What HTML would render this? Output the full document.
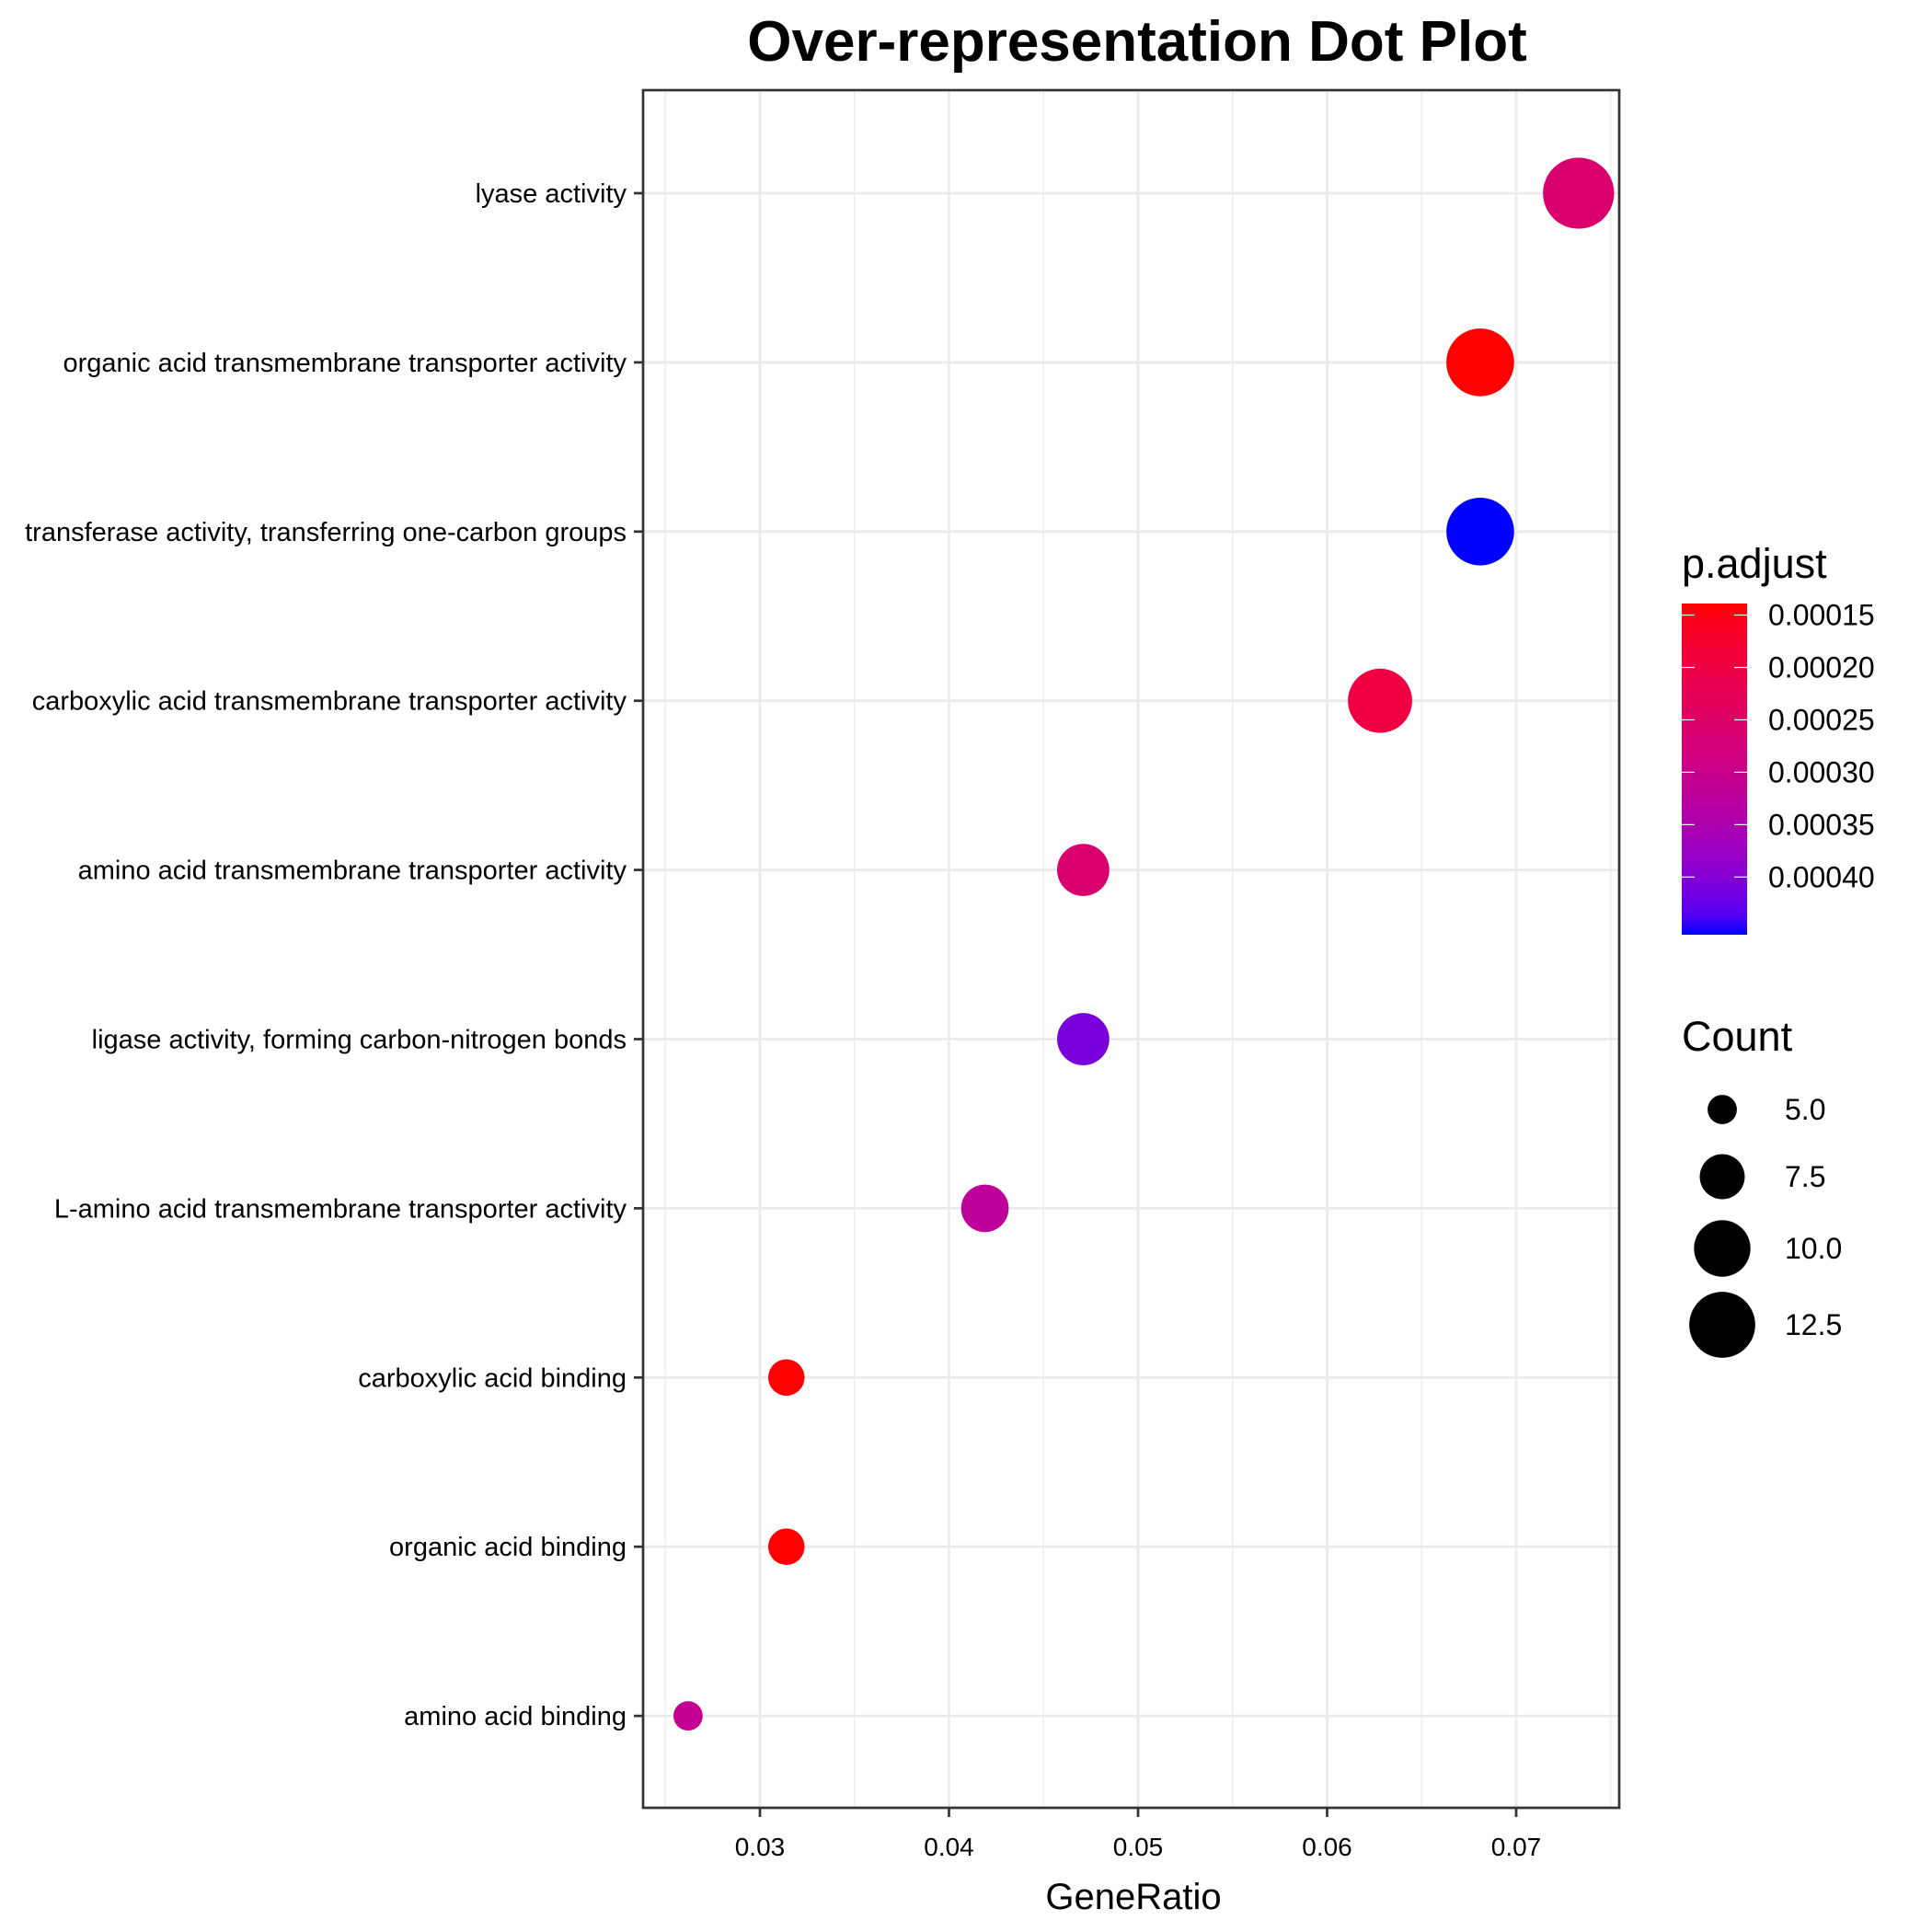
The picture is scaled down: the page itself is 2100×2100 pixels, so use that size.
<!DOCTYPE html>
<html><head><meta charset="utf-8"><style>
html,body{margin:0;padding:0;background:#fff;}
svg{display:block;font-family:"Liberation Sans",Arial,sans-serif;}
</style></head><body>
<svg id="chart" width="2100" height="2100" viewBox="0 0 2100 2100">
<defs>
<linearGradient id="cbar" x1="0" y1="0" x2="0" y2="1"></linearGradient>
</defs>
<text x="1236" y="66" text-anchor="middle" font-size="62" font-weight="bold">Over-representation Dot Plot</text>
<g id="panel"></g>
<text x="1232" y="2075" text-anchor="middle" font-size="40">GeneRatio</text>
<g id="legend"></g>
</svg>
<script>
const categories = ["lyase activity","organic acid transmembrane transporter activity","transferase activity, transferring one-carbon groups","carboxylic acid transmembrane transporter activity","amino acid transmembrane transporter activity","ligase activity, forming carbon-nitrogen bonds","L-amino acid transmembrane transporter activity","carboxylic acid binding","organic acid binding","amino acid binding"];
const geneRatio = [0.0733,0.0681,0.0681,0.0628,0.0471,0.0471,0.0419,0.0314,0.0314,0.0262];
const counts = [14,13,13,12,9,9,8,6,6,5];
const pAdjust = [0.00026,0.00014,0.000455,0.00020,0.00026,0.00041,0.00032,0.00014,0.00014,0.00031];
const xTicks = [0.03,0.04,0.05,0.06,0.07];
const xMinor = [0.025,0.035,0.045,0.055,0.065,0.075];
const pTicks = [0.00015,0.00020,0.00025,0.00030,0.00035,0.00040];
const sizeBreaks = [5.0,7.5,10.0,12.5];
const sizeLabels = ["5.0","7.5","10.0","12.5"];

const NS="http://www.w3.org/2000/svg";
const L=699,R=1760,T=98,B=1965;
const xMin=0.02382,xMax=0.07545;
const pMin=0.000139,pMax=0.000455;
function xs(v){return L+(v-xMin)/(xMax-xMin)*(R-L);}
function ys(i){return 210+i*183.9;}
function rs(c){return 1.346*Math.sqrt(Math.max(0,76*c-240));}
function mk(tag,attrs,parent){const e=document.createElementNS(NS,tag);for(const k in attrs)e.setAttribute(k,attrs[k]);parent.appendChild(e);return e;}
function s2l(c){c/=255;return c<=0.04045?c/12.92:Math.pow((c+0.055)/1.055,2.4);}
function l2s(c){c=c<=0.0031308?12.92*c:1.055*Math.pow(c,1/2.4)-0.055;return Math.round(Math.max(0,Math.min(1,c))*255);}
function toLab(r,g,b){r=s2l(r);g=s2l(g);b=s2l(b);let X=(0.4124*r+0.3576*g+0.1805*b)/0.95047,Y=0.2126*r+0.7152*g+0.0722*b,Z=(0.0193*r+0.1192*g+0.9505*b)/1.08883;const f=t=>t>0.008856?Math.cbrt(t):7.787*t+16/116;return [116*f(Y)-16,500*(f(X)-f(Y)),200*(f(Y)-f(Z))];}
function fromLab(Lv,a,b){const fy=(Lv+16)/116,fx=fy+a/500,fz=fy-b/200;const fi=t=>t*t*t>0.008856?t*t*t:(t-16/116)/7.787;const X=fi(fx)*0.95047,Y=fi(fy),Z=fi(fz)*1.08883;const r=3.2406*X-1.5372*Y-0.4986*Z,g=-0.9689*X+1.8758*Y+0.0415*Z,bb=0.0557*X-0.2040*Y+1.0570*Z;return `rgb(${l2s(r)},${l2s(g)},${l2s(bb)})`;}
const labR=toLab(255,0,0),labB=toLab(0,0,255);
function col(p){let t=(p-pMin)/(pMax-pMin);t=Math.max(0,Math.min(1,t));return fromLab(labR[0]+(labB[0]-labR[0])*t,labR[1]+(labB[1]-labR[1])*t,labR[2]+(labB[2]-labR[2])*t);}

const panel=document.getElementById('panel');
const bg=mk('rect',{x:L,y:T,width:R-L,height:B-T,fill:'#fff'},panel);


xMinor.forEach(v=>{const ln=mk('line',{x1:xs(v),x2:xs(v),y1:T,y2:B,stroke:'#ebebeb','stroke-width':1.4},panel);

});
xTicks.forEach(v=>{const ln=mk('line',{x1:xs(v),x2:xs(v),y1:T,y2:B,stroke:'#ebebeb','stroke-width':2.8},panel);

});
categories.forEach((c,i)=>{const ln=mk('line',{x1:L,x2:R,y1:ys(i),y2:ys(i),stroke:'#ebebeb','stroke-width':2.8},panel);

});
categories.forEach((c,i)=>{
 const ci=mk('circle',{cx:xs(geneRatio[i]),cy:ys(i),r:rs(counts[i]),fill:col(pAdjust[i])},panel);
 
 
 const tk=mk('line',{x1:L-10,x2:L,y1:ys(i),y2:ys(i),stroke:'#333','stroke-width':2.7},panel);
 
 
 const tx=mk('text',{x:L-18,y:ys(i)+10,'text-anchor':'end','font-size':29,fill:'#000'},panel);
 tx.textContent=c;
 
 
});
xTicks.forEach(v=>{
 const tk=mk('line',{x1:xs(v),x2:xs(v),y1:B,y2:B+10,stroke:'#333','stroke-width':2.7},panel);
 
 
 const tx=mk('text',{x:xs(v),y:B+52,'text-anchor':'middle','font-size':28,fill:'#000'},panel);
 tx.textContent=v.toFixed(2);
 
 
});
const border=mk('rect',{x:L,y:T,width:R-L,height:B-T,fill:'none',stroke:'#333','stroke-width':2.7},panel);



const lg=document.getElementById('legend');
const grad=document.getElementById('cbar');
for(let k=0;k<=20;k++){const t=k/20;mk('stop',{offset:t,'stop-color':col(pMin+t*(pMax-pMin))},grad);}
const cbT=656,cbB=1016,cbL=1828,cbW=71;
function pys(p){return cbT+(p-pMin)/(pMax-pMin)*(cbB-cbT);}
const lt=mk('text',{x:1828,y:628,'font-size':45,fill:'#000'},lg);lt.textContent='p.adjust';


const cb=mk('rect',{x:cbL,y:cbT,width:cbW,height:cbB-cbT,fill:'url(#cbar)'},lg);


pTicks.forEach(p=>{
 const y=pys(p);
 mk('line',{x1:cbL,x2:cbL+14,y1:y,y2:y,stroke:'#fff','stroke-width':1.2},lg);
 mk('line',{x1:cbL+cbW-14,x2:cbL+cbW,y1:y,y2:y,stroke:'#fff','stroke-width':1.2},lg);
 const tx=mk('text',{x:1922,y:y+11,'font-size':32,fill:'#000'},lg);tx.textContent=p.toFixed(5);
 
 
});
const ct=mk('text',{x:1828,y:1142,'font-size':45,fill:'#000'},lg);ct.textContent='Count';


const sy=[1206,1279,1357,1440];
sizeBreaks.forEach((s,i)=>{
 const c=mk('circle',{cx:1872,cy:sy[i],r:rs(s),fill:'#000'},lg);
 
 
 const tx=mk('text',{x:1940,y:sy[i]+11,'font-size':32,fill:'#000'},lg);tx.textContent=sizeLabels[i];
 
 
});
</script>
</body></html>
